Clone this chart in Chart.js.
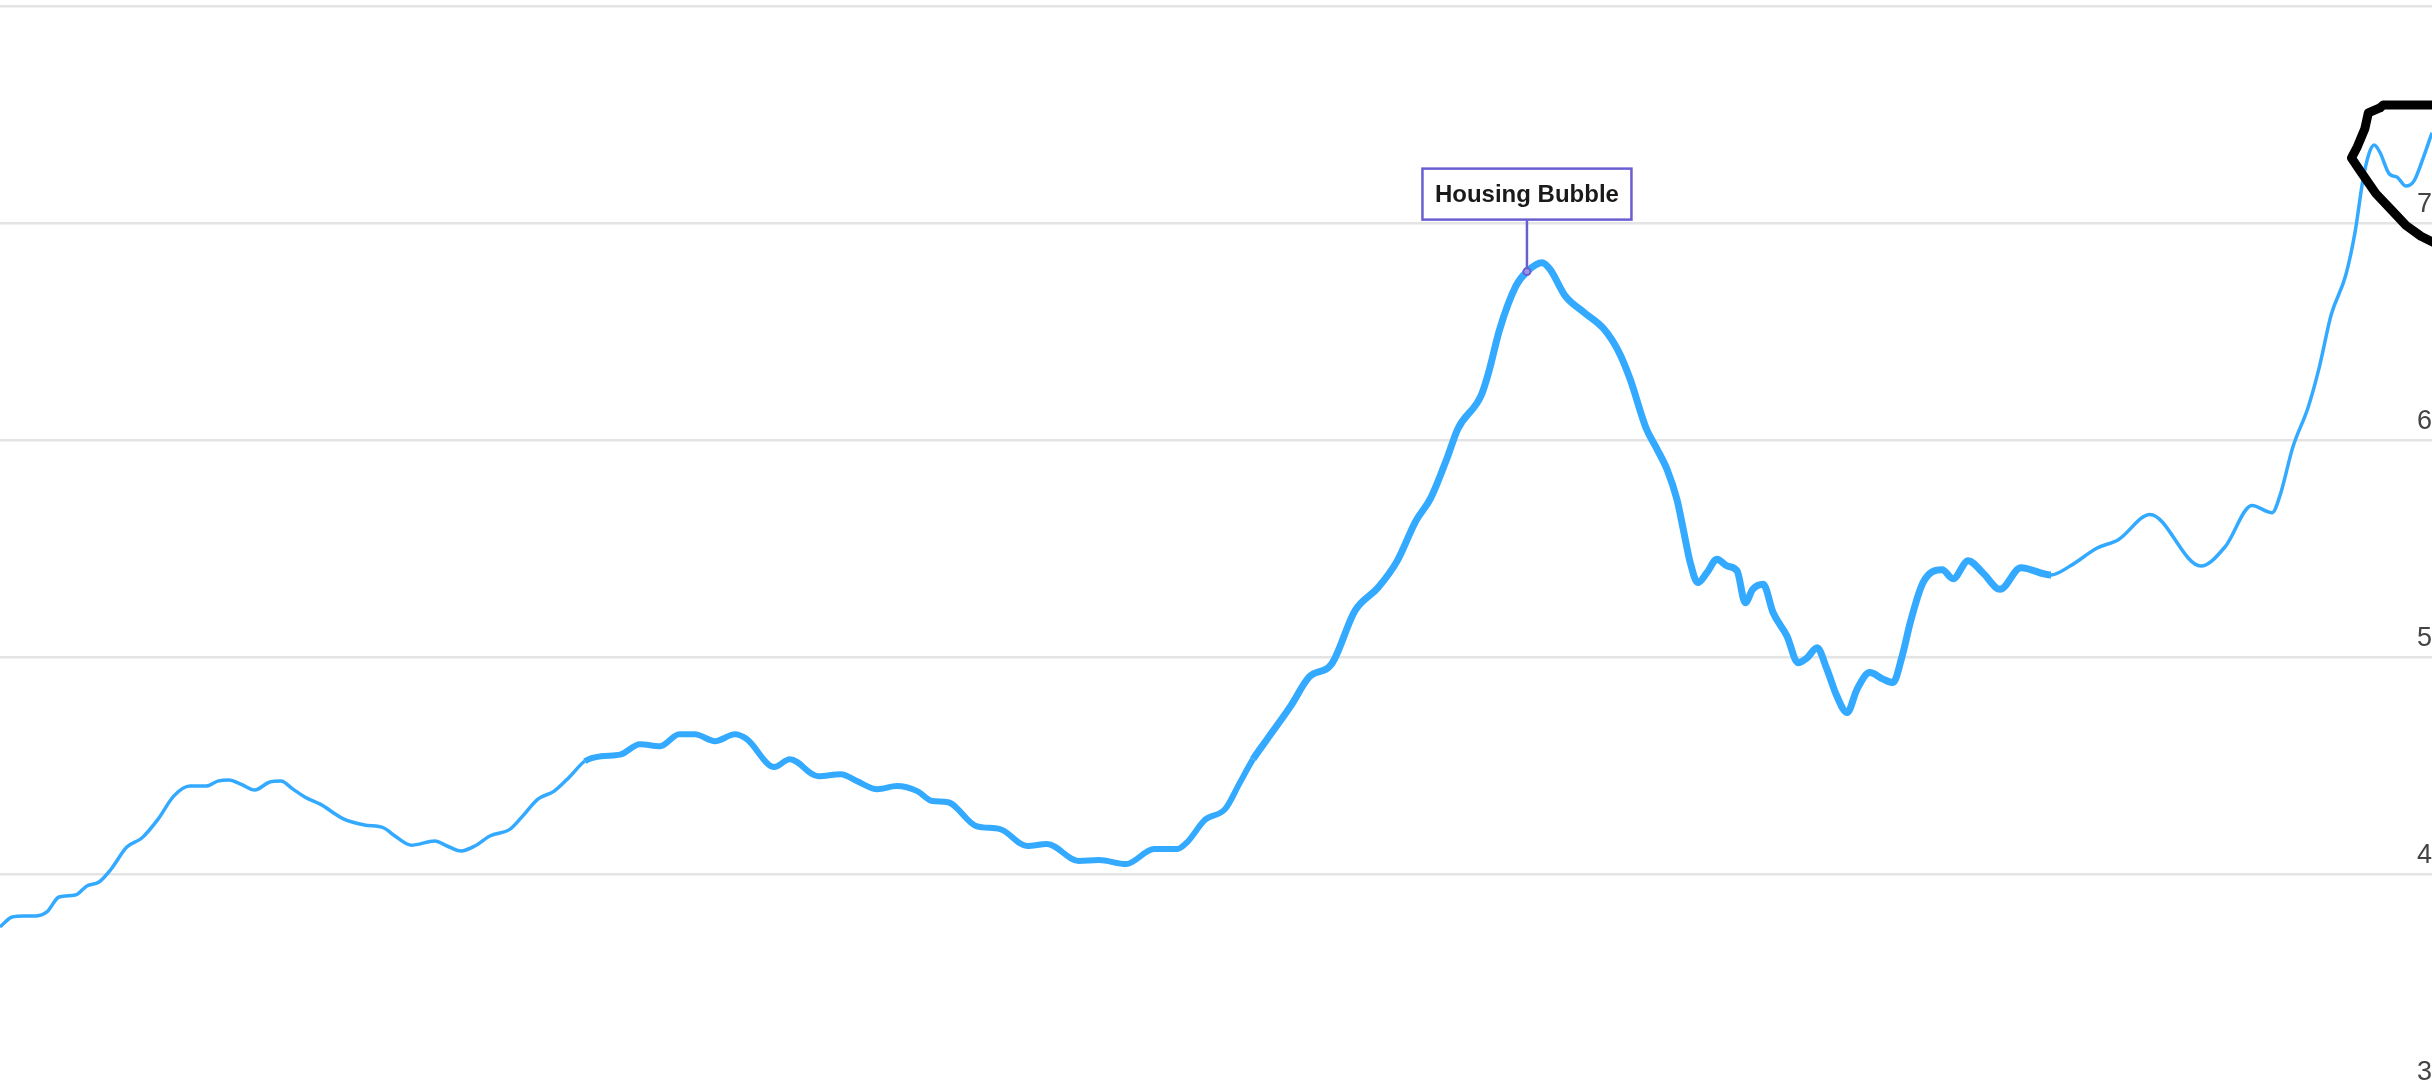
<!DOCTYPE html>
<html>
<head>
<meta charset="utf-8">
<script src="https://cdn.jsdelivr.net/npm/chart.js@4.4.1/dist/chart.umd.min.js"></script>
<style>
  html, body { margin: 0; padding: 0; background: #fff; overflow: hidden; }
  #wrap { position: relative; width: 2432px; height: 1100px; }
</style>
</head>
<body>
<div id="wrap"><canvas id="price-chart"></canvas></div>
<script>
// median price, thousands
const years = [
  1981.00, 1981.21, 1981.41, 1981.62, 1981.81, 1982.02, 1982.30, 1982.50, 1982.71, 1982.92,
  1983.19, 1983.45, 1983.73, 1984.00, 1984.28, 1984.56, 1984.76, 1984.95, 1985.16, 1985.40,
  1985.65, 1985.85, 1986.06, 1986.27, 1986.53, 1986.94, 1987.29, 1987.63, 1987.82, 1988.10,
  1988.51, 1988.72, 1988.96, 1989.20, 1989.46, 1989.81, 1990.01, 1990.29, 1990.57, 1990.83,
  1991.10, 1991.38, 1991.71, 1992.05, 1992.40, 1992.73, 1993.00, 1993.35, 1993.69, 1993.90,
  1994.37, 1994.64, 1995.13, 1995.52, 1995.80, 1996.15, 1996.49, 1996.84, 1997.10, 1997.37,
  1997.86, 1998.27, 1998.74, 1999.08, 1999.63, 1999.98, 2000.45, 2000.93, 2001.33, 2001.50,
  2001.81, 2002.16, 2002.41, 2002.64, 2002.88, 2003.28, 2003.61, 2004.00, 2004.40, 2004.80,
  2005.13, 2005.45, 2005.71, 2005.99, 2006.18, 2006.58, 2006.71, 2006.90, 2007.18, 2007.37,
  2007.63, 2007.77, 2008.03, 2008.36, 2008.70, 2008.96, 2009.15, 2009.43, 2009.62, 2009.79,
  2009.96, 2010.07, 2010.19, 2010.32, 2010.48, 2010.65, 2010.83, 2011.00, 2011.14, 2011.27,
  2011.45, 2011.62, 2011.86, 2012.05, 2012.21, 2012.38, 2012.55, 2012.72, 2012.90, 2013.07,
  2013.29, 2013.52, 2013.69, 2013.85, 2013.99, 2014.21, 2014.54, 2014.73, 2014.99, 2015.25,
  2015.54, 2015.90, 2016.42, 2016.75, 2017.21, 2017.59, 2018.13, 2019.01, 2019.43, 2019.89,
  2020.24, 2020.37, 2020.60, 2020.86, 2021.05, 2021.26, 2021.51, 2021.67, 2021.81, 2021.91,
  2022.00, 2022.10, 2022.26, 2022.40, 2022.55, 2022.69, 2022.85, 2023.00
];
const prices = [
  375.6, 380.2, 380.7, 380.7, 382.5, 389.4, 390.3, 394.5, 396.3, 402.3,
  412.4, 416.6, 425.3, 435.9, 440.5, 440.5, 442.8, 443.3, 441.4, 438.7,
  442.3, 442.8, 439.1, 435.4, 432.2, 425.3, 422.6, 421.2, 417.5, 413.3,
  415.2, 412.9, 410.6, 412.9, 417.5, 420.7, 426.2, 434.5, 438.2, 444.6,
  452.0, 454.3, 455.0, 459.8, 458.9, 464.4, 464.4, 461.2, 464.4, 462.1,
  449.3, 452.9, 445.1, 446.0, 442.8, 439.1, 440.5, 438.2, 433.6, 433.1,
  422.1, 420.7, 412.9, 413.8, 406.0, 406.4, 404.6, 411.5, 411.5, 414.6,
  425.0, 430.0, 442.0, 452.9, 462.0, 477.0, 490.8, 496.9, 521.3, 532.0,
  544.3, 562.6, 573.3, 591.6, 605.3, 620.6, 631.3, 651.1, 671.0, 677.6,
  681.7, 678.6, 666.4, 658.7, 651.1, 640.4, 628.2, 605.3, 595.6, 586.4,
  572.6, 558.8, 543.5, 534.3, 538.9, 545.0, 541.9, 539.6, 525.0, 531.2,
  533.5, 520.5, 509.7, 497.4, 499.7, 504.3, 494.4, 482.1, 474.4, 485.1,
  492.8, 489.8, 488.2, 500.5, 515.9, 534.3, 540.2, 536.1, 544.4, 538.6,
  531.2, 541.1, 537.8, 541.9, 550.1, 554.2, 565.7, 541.9, 550.9, 569.8,
  566.5, 574.0, 597.0, 615.0, 633.1, 657.8, 675.9, 695.6, 720.3, 731.8,
  735.9, 732.6, 722.7, 721.1, 717.0, 719.4, 730.1, 741.6
];

const yTickValues = [300, 400, 500, 600, 700, 800];
const yTickLabels = ['3', '4', '5', '6', '7', '8'];

// annotation point
const bubbleYear = [2007.37];
const bubbleValue = [677.6];
const bubbleLabel = 'Housing Bubble';

// hand drawn ring around the latest peak
const ringYears = [2023.30, 2022.16, 2022.10, 2021.90, 2021.84, 2021.71, 2021.61, 2021.77, 2022.03, 2022.29, 2022.55, 2022.81, 2023.00, 2023.30];
const ringValues = [754.4, 754.4, 753.0, 750.7, 743.4, 735.1, 730.0, 723.6, 713.6, 706.3, 698.9, 693.9, 691.4, 687.0];

const toPoints = (xs, ys) => xs.map((x, i) => ({ x: x, y: ys[i] }));

const bubbleBox = {
  id: 'bubbleBox',
  afterDatasetsDraw(chart) {
    const pt = chart.getDatasetMeta(1).data[0];
    if (!pt) return;
    const c = chart.ctx;
    c.save();
    c.font = 'bold 24px Arial, "Liberation Sans", sans-serif';
    const w = c.measureText(bubbleLabel).width + 25;
    const h = 51;
    const bottom = pt.y - 52;
    const left = pt.x - w / 2;
    c.strokeStyle = '#6a5fd0';
    c.lineWidth = 2.5;
    c.beginPath();
    c.moveTo(pt.x, bottom);
    c.lineTo(pt.x, pt.y - 3);
    c.stroke();
    c.fillStyle = '#fff';
    c.fillRect(left, bottom - h, w, h);
    c.strokeRect(left, bottom - h, w, h);
    c.fillStyle = '#1a1a1a';
    c.textAlign = 'center';
    c.textBaseline = 'middle';
    c.fillText(bubbleLabel, pt.x, bottom - h / 2 + 1);
    c.restore();
  }
};

// the noisy stretch of the series reads as a thicker stroke
const bandWidth = ctx => {
  const x = ctx.p0.parsed.x;
  if (x >= 1991.0 && x < 2002.6) return 6;
  if (x >= 2002.6 && x < 2016.0) return 7;
  return 3.5;
};

const ctx = document.getElementById('price-chart');
new Chart(ctx, {
  type: 'line',
  data: {
    datasets: [
      {
        label: 'ring',
        data: toPoints(ringYears, ringValues),
        borderColor: '#000',
        borderWidth: 9,
        borderJoinStyle: 'round',
        borderCapStyle: 'round',
        pointRadius: 0,
        tension: 0,
        order: 0
      },
      {
        label: bubbleLabel,
        data: toPoints(bubbleYear, bubbleValue),
        showLine: false,
        pointRadius: 3.5,
        pointBorderWidth: 2,
        pointBorderColor: '#6a5fd0',
        pointBackgroundColor: '#9d94e8',
        order: 1
      },
      {
        label: 'Median price',
        data: toPoints(years, prices),
        borderColor: '#33aaff',
        borderWidth: 3.5,
        pointRadius: 0,
        cubicInterpolationMode: 'monotone',
        segment: { borderWidth: bandWidth },
        order: 2
      }
    ]
  },
  options: {
    responsive: true,
    maintainAspectRatio: false,
    animation: false,
    devicePixelRatio: 1,
    layout: { autoPadding: false, padding: { top: 6, bottom: 9, left: 0, right: 0 } },
    plugins: {
      legend: { display: false },
      tooltip: { enabled: false }
    },
    scales: {
      x: { type: 'linear', min: 1981, max: 2023, display: false },
      y: {
        position: 'right',
        min: 300,
        max: 800,
        afterBuildTicks: axis => { axis.ticks = yTickValues.map(v => ({ value: v })); },
        afterFit: axis => { axis.paddingTop = 0; axis.paddingBottom = 0; },
        grid: { color: '#e4e4e4', lineWidth: 2.5, drawTicks: false },
        border: { display: false },
        ticks: {
          mirror: true,
          padding: 0,
          labelOffset: -18,
          color: '#444',
          font: { family: 'Arial, "Liberation Sans", sans-serif', size: 27 },
          callback: v => yTickLabels[yTickValues.indexOf(v)]
        }
      }
    }
  },
  plugins: [bubbleBox]
});
</script>
</body>
</html>
